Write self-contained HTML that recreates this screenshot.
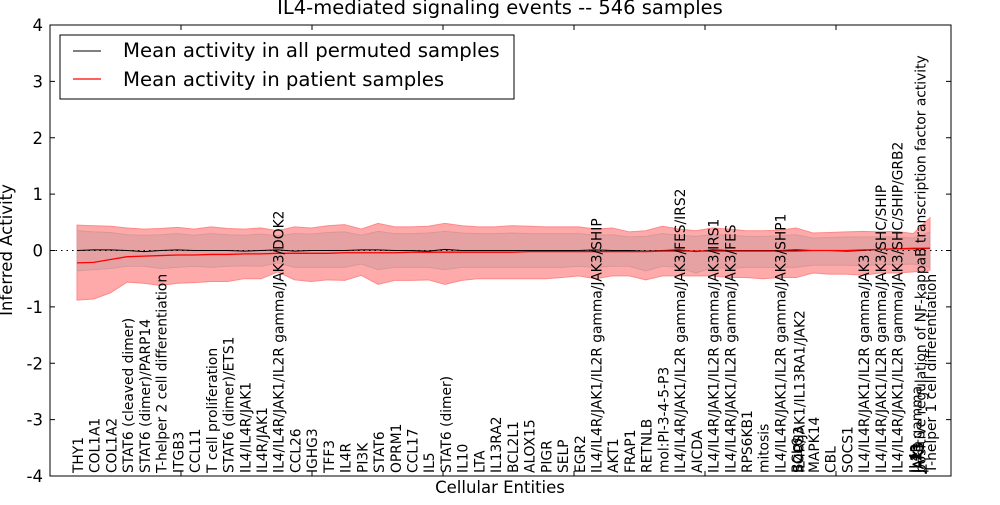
<!DOCTYPE html>
<html><head><meta charset="utf-8"><style>
body{margin:0;background:#fff;}
svg text{font-family:"DejaVu Sans","Liberation Sans",sans-serif;}
</style></head><body>
<svg id="chart" width="1000" height="500" viewBox="0 0 1000 500" xmlns="http://www.w3.org/2000/svg">
<rect width="1000" height="500" fill="#fff"/>
<g id="plot"></g>
</svg>
<script>
const categories=["THY1","COL1A1","COL1A2","STAT6 (cleaved dimer)","STAT6 (dimer)/PARP14","T-helper 2 cell differentiation","ITGB3","CCL11","T cell proliferation","STAT6 (dimer)/ETS1","IL4/IL4R/JAK1","IL4R/JAK1","IL4/IL4R/JAK1/IL2R gamma/JAK3/DOK2","CCL26","IGHG3","TFF3","IL4R","PI3K","STAT6","OPRM1","CCL17","IL5","STAT6 (dimer)","IL10","LTA","IL13RA2","BCL2L1","ALOX15","PIGR","SELP","EGR2","IL4/IL4R/JAK1/IL2R gamma/JAK3/SHIP","AKT1","FRAP1","RETNLB","mol:PI-3-4-5-P3","IL4/IL4R/JAK1/IL2R gamma/JAK3/FES/IRS2","AICDA","IL4/IL4R/JAK1/IL2R gamma/JAK3/IRS1","IL4/IL4R/JAK1/IL2R gamma/JAK3/FES","RPS6KB1","mitosis","IL4/IL4R/JAK1/IL2R gamma/JAK3/SHP1","BCL6|SOCS3|IL4R/JAK1/IL13RA1/JAK2","MAPK14","CBL","SOCS1","IL4/IL4R/JAK1/IL2R gamma/JAK3","IL4/IL4R/JAK1/IL2R gamma/JAK3/SHC/SHIP","IL4/IL4R/JAK1/IL2R gamma/JAK3/SHC/SHIP/GRB2","IL4|IL13|IL2R gamma|JAK3|JAK1|positive regulation of NF-kappaB transcription factor activity","T-helper 1 cell differentiation"];
const permMean=[0.0,0.01,0.01,0.0,-0.02,0.0,0.01,0.0,0.0,0.0,-0.01,0.0,0.01,-0.01,0.0,0.0,0.0,0.01,0.01,0.0,0.0,-0.01,0.02,0.0,0.0,0.0,0.0,0.0,0.0,0.0,0.0,0.01,0.0,0.0,-0.01,0.0,0.01,-0.02,0.01,0.0,0.0,0.0,0.0,0.01,0.0,0.0,-0.01,0.0,0.02,0.03,0.03,0.04];
const patMean=[-0.22,-0.21,-0.16,-0.11,-0.1,-0.09,-0.08,-0.08,-0.07,-0.07,-0.06,-0.06,-0.05,-0.05,-0.05,-0.05,-0.04,-0.04,-0.04,-0.04,-0.03,-0.03,-0.03,-0.03,-0.03,-0.03,-0.03,-0.02,-0.02,-0.02,-0.02,-0.02,-0.02,-0.02,-0.02,-0.01,-0.01,-0.01,-0.01,-0.01,-0.01,-0.01,-0.01,-0.01,0.0,0.0,0.0,0.01,0.02,0.03,0.04,0.04];
const outerUp=[0.45,0.44,0.43,0.4,0.38,0.39,0.41,0.38,0.42,0.39,0.38,0.4,0.35,0.42,0.4,0.44,0.46,0.38,0.48,0.42,0.42,0.43,0.48,0.44,0.42,0.42,0.44,0.43,0.42,0.42,0.42,0.38,0.4,0.33,0.35,0.43,0.38,0.35,0.4,0.38,0.35,0.35,0.36,0.4,0.31,0.32,0.33,0.34,0.33,0.34,0.3,0.58];
const outerLo=[-0.88,-0.86,-0.75,-0.56,-0.58,-0.62,-0.58,-0.57,-0.55,-0.55,-0.5,-0.5,-0.38,-0.52,-0.55,-0.52,-0.53,-0.44,-0.6,-0.53,-0.53,-0.52,-0.6,-0.53,-0.5,-0.5,-0.5,-0.5,-0.5,-0.48,-0.45,-0.5,-0.45,-0.45,-0.52,-0.45,-0.45,-0.45,-0.45,-0.48,-0.48,-0.5,-0.48,-0.48,-0.4,-0.42,-0.42,-0.44,-0.4,-0.4,-0.38,-0.35];
const innerUp=[0.35,0.33,0.32,0.28,0.27,0.28,0.3,0.27,0.3,0.28,0.27,0.29,0.26,0.3,0.29,0.32,0.33,0.27,0.34,0.3,0.3,0.31,0.34,0.31,0.3,0.3,0.31,0.3,0.3,0.3,0.3,0.27,0.28,0.24,0.25,0.3,0.27,0.25,0.28,0.27,0.25,0.25,0.26,0.28,0.22,0.23,0.24,0.24,0.24,0.24,0.22,0.33];
const innerLo=[-0.36,-0.34,-0.32,-0.28,-0.28,-0.32,-0.3,-0.28,-0.3,-0.28,-0.27,-0.28,-0.22,-0.3,-0.3,-0.3,-0.3,-0.24,-0.34,-0.3,-0.3,-0.3,-0.34,-0.3,-0.3,-0.3,-0.3,-0.3,-0.3,-0.3,-0.28,-0.3,-0.28,-0.28,-0.36,-0.28,-0.3,-0.4,-0.3,-0.32,-0.3,-0.3,-0.3,-0.3,-0.26,-0.26,-0.26,-0.27,-0.25,-0.25,-0.24,-0.3];
const yTicks=[-4,-3,-2,-1,0,1,2,3,4];
const L=50,R=951,T=25,B=476,X0=77,X1=930;
const sx=i=>X0+(X1-X0)*i/(categories.length-1);
const sy=v=>T+(4-v)*(B-T)/8;
const NS="http://www.w3.org/2000/svg";
const g=document.getElementById('plot');
function mk(tag,attrs,parent){const e=document.createElementNS(NS,tag);for(const k in attrs)e.setAttribute(k,attrs[k]);(parent||g).appendChild(e);return e;}
function band(up,lo){let p=up.map((v,i)=>sx(i)+','+sy(v));for(let i=lo.length-1;i>=0;i--)p.push(sx(i)+','+sy(lo[i]));return p.join(' ');}
const ob=mk('polygon',{points:band(outerUp,outerLo),fill:'#ffaaaa',stroke:'#ff8888','stroke-width':1});


const ib=mk('polygon',{points:band(innerUp,innerLo),fill:'#e6a2a2',stroke:'#d89898','stroke-width':1});


const zl=mk('line',{x1:L,x2:R,y1:sy(0),y2:sy(0),stroke:'#000','stroke-dasharray':'1.5,4','stroke-width':1});


const bl=mk('polyline',{points:permMean.map((v,i)=>sx(i)+','+sy(v)).join(' '),fill:'none',stroke:'#000','stroke-width':1});


const rl=mk('polyline',{points:patMean.map((v,i)=>sx(i)+','+sy(v)).join(' '),fill:'none',stroke:'#f00','stroke-width':1.3});


const fr=mk('rect',{x:L,y:T,width:R-L,height:B-T,fill:'none',stroke:'#000','stroke-width':1});


yTicks.forEach(v=>{
  mk('line',{x1:L,x2:L+5,y1:sy(v),y2:sy(v),stroke:'#000'});
  mk('line',{x1:R-5,x2:R,y1:sy(v),y2:sy(v),stroke:'#000'});
  const t=mk('text',{x:L-7,y:sy(v)+6,'text-anchor':'end','font-size':16.5});
  t.textContent=v;
  
  
});
for(let x=181;x<R;x+=131){mk('line',{x1:x,x2:x,y1:T,y2:T+5,stroke:'#000'});mk('line',{x1:x,x2:x,y1:B-5,y2:B,stroke:'#000'});}
categories.forEach((c,i)=>{
  c.split('|').forEach((s,j)=>{
    const x=sx(i)+6+j*1.2;
    const t=mk('text',{transform:`translate(${x},473) rotate(-90)`,'font-size':13.8});
    t.textContent=s;
    
    
  });
});
const ti=mk('text',{x:500,y:14,'text-anchor':'middle','font-size':19.5});
ti.textContent='IL4-mediated signaling events -- 546 samples';


const xt=mk('text',{x:500,y:493,'text-anchor':'middle','font-size':16.5});
xt.textContent='Cellular Entities';


const yt=mk('text',{transform:'translate(12,250) rotate(-90)','text-anchor':'middle','font-size':16.5});
yt.textContent='Inferred Activity';


const lg=mk('g',{});


mk('rect',{x:60,y:35,width:454,height:64,fill:'#fff',stroke:'#000'},lg);
mk('line',{x1:73,x2:101,y1:51,y2:51,stroke:'#000'},lg);
mk('line',{x1:73,x2:101,y1:79,y2:79,stroke:'#f00','stroke-width':1.3},lg);
const l1=mk('text',{x:123,y:57,'font-size':19.7},lg);l1.textContent='Mean activity in all permuted samples';


const l2=mk('text',{x:123,y:86,'font-size':19.7},lg);l2.textContent='Mean activity in patient samples';


</script>
</body></html>
